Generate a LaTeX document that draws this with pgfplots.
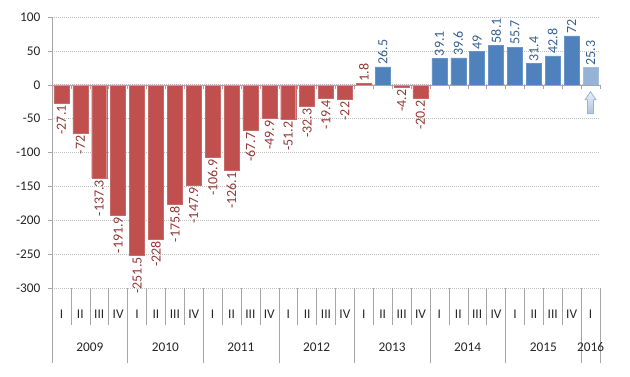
\documentclass[border=0pt]{standalone}
\usepackage{pgfplots}
\pgfplotsset{compat=1.18}
\usepackage{fontspec}
\setmainfont{Carlito}
\definecolor{redbar}{HTML}{C0504D}
\definecolor{bluebar}{HTML}{4F81BD}
\definecolor{lightbar}{HTML}{95B3D7}
\definecolor{redlab}{HTML}{953735}
\definecolor{bluelab}{HTML}{376092}
\definecolor{axgray}{HTML}{A6A6A6}
\definecolor{gridgray}{HTML}{C0C0C0}
\definecolor{txt}{HTML}{262626}
\begin{document}
\begin{tikzpicture}[x=1pt,y=1pt]
\useasboundingbox (0,0) rectangle (630,376);
\begin{axis}[
  at={(52pt,88pt)}, anchor=south west,
  scale only axis, width=548pt, height=271pt,
  xmin=-0.5, xmax=28.5, ymin=-300, ymax=100,
  clip=false,
  axis y line*=left, axis x line*=bottom,
  x axis line style={draw=none},
  y axis line style={axgray},
  ytick={-300,-250,...,100},
  ymajorgrids,
  major grid style={gridgray, dash pattern=on 1pt off 1pt, line width=0.6pt},
  y tick style={axgray}, tick align=outside, major tick length=4pt,
  x tick style={draw=none},
  xtick={0,...,28},
  xticklabels={I,II,III,IV,I,II,III,IV,I,II,III,IV,I,II,III,IV,I,II,III,IV,I,II,III,IV,I,II,III,IV,I},
  xticklabel style={anchor=center, yshift=-22pt, font=\fontsize{13.3}{15}\selectfont, text=txt},
  yticklabel style={xshift=-4pt, font=\fontsize{13.3}{15}\selectfont, text=txt},
  /pgf/number format/assume math mode=true,
  /pgf/number format/.cd, 1000 sep={}, /pgfplots/.cd,
]
% red negative
\addplot[ybar, bar width=15pt, bar shift=0pt, fill=redbar, draw=redbar!85!white,
  nodes near coords, every node near coord/.append style={rotate=90, anchor=east, inner sep=2pt, text=redlab, font=\fontsize{14}{16}\selectfont}]
coordinates {(0,-27.1)(1,-72)(2,-137.3)(3,-191.9)(4,-251.5)(5,-228)(6,-175.8)(7,-147.9)(8,-106.9)(9,-126.1)(10,-67.7)(11,-49.9)(12,-51.2)(13,-32.3)(14,-19.4)(15,-22)(18,-4.2)(19,-20.2)};
% red positive
\addplot[ybar, bar width=15pt, bar shift=0pt, fill=redbar, draw=redbar!85!white,
  nodes near coords, every node near coord/.append style={rotate=90, anchor=west, inner sep=2pt, text=redlab, font=\fontsize{14}{16}\selectfont}]
coordinates {(16,1.8)};
% blue
\addplot[ybar, bar width=15pt, bar shift=0pt, fill=bluebar, draw=bluebar!85!white,
  nodes near coords, every node near coord/.append style={rotate=90, anchor=west, inner sep=2pt, text=bluelab, font=\fontsize{14}{16}\selectfont}]
coordinates {(17,26.5)(20,39.1)(21,39.6)(22,49)(23,58.1)(24,55.7)(25,31.4)(26,42.8)(27,72)};
% light blue
\addplot[ybar, bar width=15pt, bar shift=0pt, fill=lightbar, draw=lightbar!85!white,
  nodes near coords, every node near coord/.append style={rotate=90, anchor=west, inner sep=2pt, text=bluelab, font=\fontsize{14}{16}\selectfont}]
coordinates {(28,25.3)};
% zero line and small ticks
\draw[axgray] (axis cs:-0.5,0) -- (axis cs:28.5,0);
\pgfplotsinvokeforeach{-0.5,0.5,1.5,2.5,3.5,4.5,5.5,6.5,7.5,8.5,9.5,10.5,11.5,12.5,13.5,14.5,15.5,16.5,17.5,18.5,19.5,20.5,21.5,22.5,23.5,24.5,25.5,26.5,27.5,28.5}{
  \draw[axgray] (axis cs:#1,0) -- ++(0pt,-4pt);
}
% quarter separators
\pgfplotsinvokeforeach{0.5,1.5,2.5,4.5,5.5,6.5,8.5,9.5,10.5,12.5,13.5,14.5,16.5,17.5,18.5,20.5,21.5,22.5,24.5,25.5,26.5}{
  \draw[axgray] (axis cs:#1,-300) -- ++(0pt,-37pt);
}
% year separators
\pgfplotsinvokeforeach{-0.5,3.5,7.5,11.5,15.5,19.5,23.5,27.5,28.5}{
  \draw[axgray] (axis cs:#1,-300) -- ++(0pt,-75pt);
}
% year labels
\node[yshift=-59pt, font=\fontsize{13.3}{15}\selectfont, text=txt] at (axis cs:1.5,-300) {2009};
\node[yshift=-59pt, font=\fontsize{13.3}{15}\selectfont, text=txt] at (axis cs:5.5,-300) {2010};
\node[yshift=-59pt, font=\fontsize{13.3}{15}\selectfont, text=txt] at (axis cs:9.5,-300) {2011};
\node[yshift=-59pt, font=\fontsize{13.3}{15}\selectfont, text=txt] at (axis cs:13.5,-300) {2012};
\node[yshift=-59pt, font=\fontsize{13.3}{15}\selectfont, text=txt] at (axis cs:17.5,-300) {2013};
\node[yshift=-59pt, font=\fontsize{13.3}{15}\selectfont, text=txt] at (axis cs:21.5,-300) {2014};
\node[yshift=-59pt, font=\fontsize{13.3}{15}\selectfont, text=txt] at (axis cs:25.5,-300) {2015};
\node[yshift=-59pt, font=\fontsize{13.3}{15}\selectfont, text=txt] at (axis cs:28,-300) {2016};
% arrow under last bar
\draw[draw=lightbar, line width=0.8pt, top color=white, bottom color=lightbar!80!white]
  (axis cs:28,0) ++(0pt,-7pt) -- ++(5.5pt,-8pt) -- ++(-2.5pt,0pt) -- ++(0pt,-14pt) -- ++(-6pt,0pt) -- ++(0pt,14pt) -- ++(-2.5pt,0pt) -- cycle;
\end{axis}
\end{tikzpicture}
\end{document}
